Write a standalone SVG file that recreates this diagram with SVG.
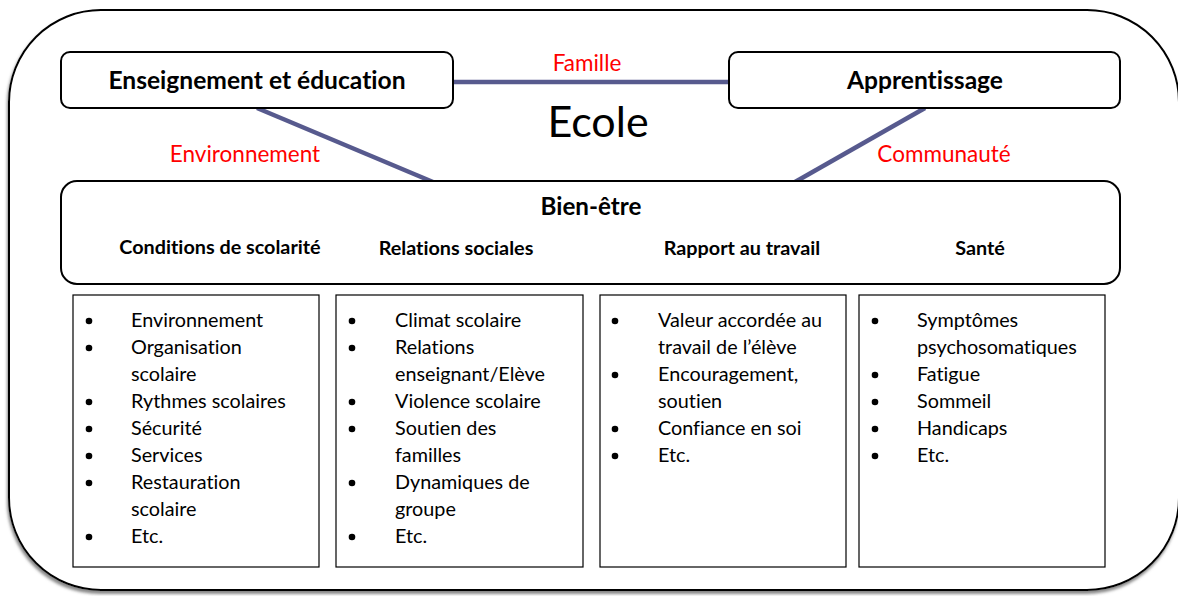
<svg xmlns="http://www.w3.org/2000/svg" width="1178" height="596" viewBox="0 0 1178 596">
<defs>
<filter id="sh" x="-5%" y="-5%" width="110%" height="115%">
<feDropShadow dx="-1" dy="3" stdDeviation="1.5" flood-color="#7a7a7a" flood-opacity="0.9"/>
</filter>
<style>
.box{fill:#fff;stroke:#000;stroke-width:2}
.lst{fill:#fff;stroke:#000;stroke-width:1.2}
.con{stroke:#575a8e;stroke-width:4.5;fill:none}
.t{font-family:Lato,"Liberation Sans",sans-serif;fill:#000;font-variant-ligatures:none}
.hb{font-weight:bold;font-size:24.6px}
.bw{font-weight:bold;font-size:24.2px}
.sb{font-weight:bold;font-size:19.8px}
.red{font-family:Lato,"Liberation Sans",sans-serif;fill:#ff0000;font-size:22.5px;font-variant-ligatures:none}
.li{font-size:19.8px}
.bul{fill:#000}
</style>
</defs>
<g id="ecole">
<rect x="9" y="10" width="1170" height="580" rx="92" ry="92" class="box" filter="url(#sh)"/>
<text class="t" x="598" y="137" font-size="43" text-anchor="middle">Ecole</text>
</g>
<g id="connectors">
<line class="con" x1="453" y1="82" x2="729" y2="82"/>
<line class="con" x1="257" y1="108" x2="433" y2="182"/>
<line class="con" x1="925" y1="108" x2="795" y2="182"/>
<text class="red" x="587" y="71" text-anchor="middle">Famille</text>
<text class="red" x="245" y="162" text-anchor="middle">Environnement</text>
<text class="red" x="944" y="162" text-anchor="middle">Communauté</text>
</g>
<g id="enseignement">
<rect x="61" y="52" width="392" height="56" rx="9" class="box"/>
<text class="t hb" x="257" y="89" text-anchor="middle">Enseignement et éducation</text>
</g>
<g id="apprentissage">
<rect x="729" y="52" width="391" height="56" rx="9" class="box"/>
<text class="t hb" x="925" y="89" text-anchor="middle">Apprentissage</text>
</g>
<g id="bien-etre">
<rect x="61" y="181" width="1059" height="103" rx="16" class="box"/>
<text class="t bw" x="591" y="215" text-anchor="middle">Bien-être</text>
<text class="t sb" x="220" y="254" text-anchor="middle">Conditions de scolarité</text>
<text class="t sb" x="456" y="255" text-anchor="middle">Relations sociales</text>
<text class="t sb" x="742" y="255" text-anchor="middle">Rapport au travail</text>
<text class="t sb" x="980" y="255" text-anchor="middle">Santé</text>
</g>
<g id="conditions">
<rect x="73" y="295" width="246" height="272" class="lst"/>
<g class="bul">
<circle cx="89" cy="321" r="3.3"/><circle cx="89" cy="348" r="3.3"/><circle cx="89" cy="402" r="3.3"/><circle cx="89" cy="429" r="3.3"/><circle cx="89" cy="456" r="3.3"/><circle cx="89" cy="483" r="3.3"/><circle cx="89" cy="537" r="3.3"/>
</g>
<g class="t li">
<text x="131" y="327">Environnement</text>
<text x="131" y="354">Organisation</text>
<text x="131" y="381">scolaire</text>
<text x="131" y="408">Rythmes scolaires</text>
<text x="131" y="435">Sécurité</text>
<text x="131" y="462">Services</text>
<text x="131" y="489">Restauration</text>
<text x="131" y="516">scolaire</text>
<text x="131" y="543">Etc.</text>
</g>
</g>
<g id="relations">
<rect x="336" y="295" width="247" height="272" class="lst"/>
<g class="bul">
<circle cx="352" cy="321" r="3.3"/><circle cx="352" cy="348" r="3.3"/><circle cx="352" cy="402" r="3.3"/><circle cx="352" cy="429" r="3.3"/><circle cx="352" cy="483" r="3.3"/><circle cx="352" cy="537" r="3.3"/>
</g>
<g class="t li">
<text x="395" y="327">Climat scolaire</text>
<text x="395" y="354">Relations</text>
<text x="395" y="381">enseignant/Elève</text>
<text x="395" y="408">Violence scolaire</text>
<text x="395" y="435">Soutien des</text>
<text x="395" y="462">familles</text>
<text x="395" y="489">Dynamiques de</text>
<text x="395" y="516">groupe</text>
<text x="395" y="543">Etc.</text>
</g>
</g>
<g id="rapport">
<rect x="600" y="295" width="246" height="272" class="lst"/>
<g class="bul">
<circle cx="615" cy="321" r="3.3"/><circle cx="615" cy="375" r="3.3"/><circle cx="615" cy="429" r="3.3"/><circle cx="615" cy="456" r="3.3"/>
</g>
<g class="t li">
<text x="658" y="327">Valeur accordée au</text>
<text x="658" y="354">travail de l’élève</text>
<text x="658" y="381">Encouragement,</text>
<text x="658" y="408">soutien</text>
<text x="658" y="435">Confiance en soi</text>
<text x="658" y="462">Etc.</text>
</g>
</g>
<g id="sante">
<rect x="859" y="295" width="246" height="272" class="lst"/>
<g class="bul">
<circle cx="875" cy="321" r="3.3"/><circle cx="875" cy="375" r="3.3"/><circle cx="875" cy="402" r="3.3"/><circle cx="875" cy="429" r="3.3"/><circle cx="875" cy="456" r="3.3"/>
</g>
<g class="t li">
<text x="917" y="327">Symptômes</text>
<text x="917" y="354">psychosomatiques</text>
<text x="917" y="381">Fatigue</text>
<text x="917" y="408">Sommeil</text>
<text x="917" y="435">Handicaps</text>
<text x="917" y="462">Etc.</text>
</g>
</g>
</svg>
